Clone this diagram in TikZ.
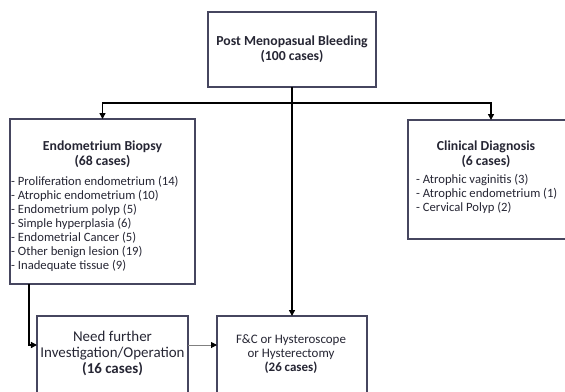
\documentclass[tikz,border=0pt]{standalone}
\usepackage{fontspec}
\setmainfont{Carlito}
\usetikzlibrary{arrows.meta}
\definecolor{bord}{RGB}{70,70,95}
\definecolor{txt}{RGB}{38,38,52}
\begin{document}
\begin{tikzpicture}[x=1bp,y=-1bp,
  box/.style={draw=bord,line width=1.3bp,inner sep=0pt,outer sep=0pt},
  arr/.style={-{Triangle[length=6bp,width=6bp]},line width=1.4bp,black},
  ttl/.style={text=txt,align=center,inner sep=0pt,font=\bfseries\fontsize{13.8}{15}\selectfont},
  lst/.style={text=txt,align=left,inner sep=0pt,anchor=west,font=\fontsize{12.7}{14}\selectfont},
  btx/.style={text=txt,align=center,inner sep=0pt}]
\useasboundingbox (0,0) rectangle (565,391);
\clip (0,0) rectangle (565,391);
\fill[white] (0,0) rectangle (565,391);

\node[box,minimum width=168bp,minimum height=75bp] (top) at (292,49.5) {};
\node[ttl] (topt) at (292,49.5) {Post Menopasual Bleeding\\(100 cases)};

\node[box,minimum width=185bp,minimum height=165bp] (ebx) at (102.5,201.5) {};
\node[ttl] (ebt) at (102.5,154.5) {Endometrium Biopsy\\(68 cases)};
\node[lst] (ebl) at (11,224) {- Proliferation endometrium (14)\\- Atrophic endometrium (10)\\- Endometrium polyp (5)\\- Simple hyperplasia (6)\\- Endometrial Cancer (5)\\- Other benign lesion (19)\\- Inadequate tissue (9)};

\node[box,minimum width=200bp,minimum height=119bp] (cdx) at (508,179.5) {};
\node[ttl] (cdt) at (486,154.5) {Clinical Diagnosis\\(6 cases)};
\node[lst] (cdl) at (416,194) {- Atrophic vaginitis (3)\\- Atrophic endometrium (1)\\- Cervical Polyp (2)};

\node[box,minimum width=151bp,minimum height=100bp] (need) at (112.5,366) {};
\node[btx,font=\fontsize{15}{16}\selectfont] (needt) at (112.5,353) {Need further\\Investigation/Operation\\\textbf{(16 cases)}};

\node[box,minimum width=150bp,minimum height=100bp] (fc) at (292,366) {};
\node[btx,font=\fontsize{13}{14.5}\selectfont] (fct) at (291,354) {F\&C or Hysteroscope\\or Hysterectomy\\\textbf{(26 cases)}};

\coordinate (hrow) at (292,103);
\coordinate (cdin) at ([xshift=83bp]cdx.north west);
\draw[arr] (hrow) -| (ebx.north);
\draw[arr] (hrow) -| (cdin);
\draw[arr] (top) -- (fc);
\draw[arr] ([xshift=19bp]ebx.south west) |- ([yshift=-29bp]need.north west);
\draw[-{Triangle[length=6bp,width=6bp,color=black]},line width=1bp,gray] ([yshift=-29bp]need.north east) -- ([yshift=-29bp]fc.north west);
\end{tikzpicture}
\end{document}
